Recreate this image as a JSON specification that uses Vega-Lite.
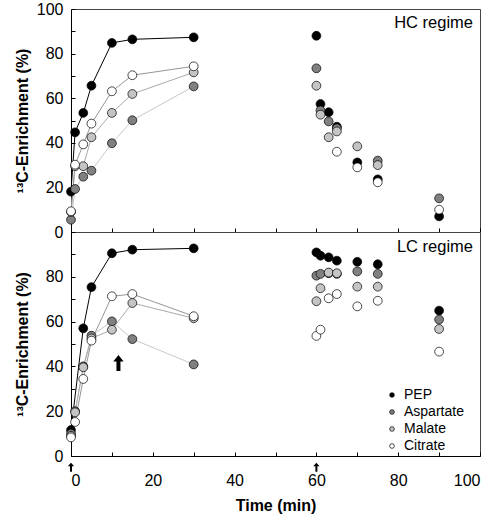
{
  "$schema": "https://vega.github.io/schema/vega-lite/v6.json",
  "padding": {"left": 13, "top": 0, "right": 0, "bottom": 0},
  "background": "white",
  "config": {
    "font": "Liberation Sans",
    "view": {"stroke": "#444", "strokeWidth": 1},
    "axis": {"labelFont": "Liberation Sans", "labelFontSize": 16, "labelColor": "black", "titleFont": "Liberation Sans", "titleFontSize": 16, "titleFontWeight": "bold", "titleColor": "black", "domainColor": "black", "tickColor": "black", "grid": false, "tickSize": -4, "labelPadding": 12}
  },
  "datasets": {
    "hc": [
      {"s": "PEP", "t": 0, "v": 18.1}, {"s": "PEP", "t": 1, "v": 44.7}, {"s": "PEP", "t": 3, "v": 53.4}, {"s": "PEP", "t": 5, "v": 65.6}, {"s": "PEP", "t": 10, "v": 84.8}, {"s": "PEP", "t": 15, "v": 86.4}, {"s": "PEP", "t": 30, "v": 87.3}, {"s": "PEP", "t": 60, "v": 88.0}, {"s": "PEP", "t": 61, "v": 57.4}, {"s": "PEP", "t": 63, "v": 53.7}, {"s": "PEP", "t": 65, "v": 47.2}, {"s": "PEP", "t": 70, "v": 31.2}, {"s": "PEP", "t": 75, "v": 23.6}, {"s": "PEP", "t": 90, "v": 7.0},
      {"s": "Aspartate", "t": 0, "v": 5.5}, {"s": "Aspartate", "t": 1, "v": 19.3}, {"s": "Aspartate", "t": 3, "v": 24.8}, {"s": "Aspartate", "t": 5, "v": 27.5}, {"s": "Aspartate", "t": 10, "v": 39.8}, {"s": "Aspartate", "t": 15, "v": 50.1}, {"s": "Aspartate", "t": 30, "v": 65.3}, {"s": "Aspartate", "t": 60, "v": 73.4}, {"s": "Aspartate", "t": 61, "v": 54.5}, {"s": "Aspartate", "t": 63, "v": 49.6}, {"s": "Aspartate", "t": 65, "v": 46.5}, {"s": "Aspartate", "t": 75, "v": 32.0}, {"s": "Aspartate", "t": 90, "v": 15.1},
      {"s": "Malate", "t": 0, "v": 9.0}, {"s": "Malate", "t": 1, "v": 29.5}, {"s": "Malate", "t": 3, "v": 29.5}, {"s": "Malate", "t": 5, "v": 42.5}, {"s": "Malate", "t": 10, "v": 53.4}, {"s": "Malate", "t": 15, "v": 61.9}, {"s": "Malate", "t": 30, "v": 71.6}, {"s": "Malate", "t": 60, "v": 65.6}, {"s": "Malate", "t": 61, "v": 52.6}, {"s": "Malate", "t": 63, "v": 42.5}, {"s": "Malate", "t": 65, "v": 45.1}, {"s": "Malate", "t": 70, "v": 38.4}, {"s": "Malate", "t": 75, "v": 30.0},
      {"s": "Citrate", "t": 0, "v": 9.3}, {"s": "Citrate", "t": 1, "v": 30.2}, {"s": "Citrate", "t": 3, "v": 39.3}, {"s": "Citrate", "t": 5, "v": 48.6}, {"s": "Citrate", "t": 10, "v": 63.1}, {"s": "Citrate", "t": 15, "v": 70.3}, {"s": "Citrate", "t": 30, "v": 74.3}, {"s": "Citrate", "t": 65, "v": 36.0}, {"s": "Citrate", "t": 70, "v": 29.0}, {"s": "Citrate", "t": 75, "v": 22.3}, {"s": "Citrate", "t": 90, "v": 10.0}
    ],
    "lc": [
      {"s": "PEP", "t": 0, "v": 11.6}, {"s": "PEP", "t": 3, "v": 57.0}, {"s": "PEP", "t": 5, "v": 75.4}, {"s": "PEP", "t": 10, "v": 90.5}, {"s": "PEP", "t": 15, "v": 92.1}, {"s": "PEP", "t": 30, "v": 92.7}, {"s": "PEP", "t": 60, "v": 90.9}, {"s": "PEP", "t": 61, "v": 89.4}, {"s": "PEP", "t": 63, "v": 88.7}, {"s": "PEP", "t": 65, "v": 87.2}, {"s": "PEP", "t": 70, "v": 86.7}, {"s": "PEP", "t": 75, "v": 85.6}, {"s": "PEP", "t": 90, "v": 64.9},
      {"s": "Aspartate", "t": 0, "v": 10.0}, {"s": "Aspartate", "t": 1, "v": 20.0}, {"s": "Aspartate", "t": 3, "v": 40.0}, {"s": "Aspartate", "t": 5, "v": 53.7}, {"s": "Aspartate", "t": 10, "v": 60.1}, {"s": "Aspartate", "t": 15, "v": 52.2}, {"s": "Aspartate", "t": 30, "v": 40.9}, {"s": "Aspartate", "t": 60, "v": 80.5}, {"s": "Aspartate", "t": 61, "v": 81.3}, {"s": "Aspartate", "t": 63, "v": 81.6}, {"s": "Aspartate", "t": 65, "v": 81.3}, {"s": "Aspartate", "t": 70, "v": 82.4}, {"s": "Aspartate", "t": 75, "v": 81.3}, {"s": "Aspartate", "t": 90, "v": 60.9},
      {"s": "Malate", "t": 0, "v": 9.0}, {"s": "Malate", "t": 1, "v": 19.5}, {"s": "Malate", "t": 3, "v": 39.6}, {"s": "Malate", "t": 5, "v": 52.5}, {"s": "Malate", "t": 10, "v": 56.4}, {"s": "Malate", "t": 15, "v": 68.3}, {"s": "Malate", "t": 30, "v": 61.5}, {"s": "Malate", "t": 60, "v": 69.1}, {"s": "Malate", "t": 61, "v": 74.9}, {"s": "Malate", "t": 63, "v": 81.9}, {"s": "Malate", "t": 65, "v": 81.6}, {"s": "Malate", "t": 70, "v": 75.6}, {"s": "Malate", "t": 75, "v": 75.6}, {"s": "Malate", "t": 90, "v": 56.7},
      {"s": "Citrate", "t": 0, "v": 8.3}, {"s": "Citrate", "t": 1, "v": 15.2}, {"s": "Citrate", "t": 3, "v": 34.4}, {"s": "Citrate", "t": 5, "v": 51.5}, {"s": "Citrate", "t": 10, "v": 71.3}, {"s": "Citrate", "t": 15, "v": 72.3}, {"s": "Citrate", "t": 30, "v": 62.4}, {"s": "Citrate", "t": 60, "v": 53.6}, {"s": "Citrate", "t": 61, "v": 56.4}, {"s": "Citrate", "t": 63, "v": 70.4}, {"s": "Citrate", "t": 65, "v": 72.3}, {"s": "Citrate", "t": 70, "v": 66.8}, {"s": "Citrate", "t": 75, "v": 69.3}, {"s": "Citrate", "t": 90, "v": 46.6}
    ]
  },
  "spacing": 0,
  "bounds": "flush",
  "vconcat": [
    {
      "width": 409,
      "height": 223,
      "encoding": {
        "x": {"field": "t", "type": "quantitative", "scale": {"domain": [0, 100], "nice": false}, "axis": {"values": [0, 10, 20, 30, 40, 50, 60, 70, 80, 90, 100], "labels": false, "title": null}},
        "y": {"field": "v", "type": "quantitative", "scale": {"domain": [0, 100], "nice": false}, "axis": {"values": [0, 10, 20, 30, 40, 50, 60, 70, 80, 90, 100], "labelExpr": "datum.value % 20 == 0 ? datum.label : ''", "title": "¹³C-Enrichment (%)", "titleX": -49, "titleBaseline": "middle"}}
      },
      "layer": [
        {"data": {"name": "hc"}, "transform": [{"filter": "datum.t <= 30 && datum.s == 'Aspartate'"}], "mark": {"type": "line", "strokeWidth": 1, "color": "#c8c8c8"}, "encoding": {}},
        {"data": {"name": "hc"}, "transform": [{"filter": "datum.t <= 30 && datum.s == 'Malate'"}], "mark": {"type": "line", "strokeWidth": 1, "color": "#aaaaaa"}, "encoding": {}},
        {"data": {"name": "hc"}, "transform": [{"filter": "datum.t <= 30 && datum.s == 'Citrate'"}], "mark": {"type": "line", "strokeWidth": 1, "color": "#969696"}, "encoding": {}},
        {"data": {"name": "hc"}, "transform": [{"filter": "datum.t <= 30 && datum.s == 'PEP'"}], "mark": {"type": "line", "strokeWidth": 1, "color": "#000000"}, "encoding": {}},
        {
          "data": {"name": "hc"},
          "mark": {"type": "point", "filled": true, "size": 78, "stroke": "black", "strokeWidth": 0.7, "opacity": 1},
          "encoding": {"fill": {"field": "s", "type": "nominal", "scale": {"domain": ["PEP", "Aspartate", "Malate", "Citrate"], "range": ["#000000", "#808080", "#c4c4c4", "#ffffff"]}, "legend": {"title": null, "orient": "none", "legendX": 314, "legendY": 379, "labelFontSize": 14, "labelFont": "Liberation Sans", "labelColor": "black", "symbolSize": 22, "symbolType": "circle", "symbolStrokeColor": "black", "symbolStrokeWidth": 0.7, "rowPadding": 3, "labelOffset": 5}}}
        },
        {
          "data": {"values": [{"t": 98.3, "v": 91.5, "label": "HC regime"}]},
          "mark": {"type": "text", "align": "right", "baseline": "alphabetic", "fontSize": 16.5, "font": "Liberation Sans", "color": "black"},
          "encoding": {"text": {"field": "label"}}
        }
      ]
    },
    {
      "width": 409,
      "height": 224,
      "encoding": {
        "x": {"field": "t", "type": "quantitative", "scale": {"domain": [0, 100], "nice": false}, "axis": {"values": [0, 10, 20, 30, 40, 50, 60, 70, 80, 90, 100], "labelExpr": "datum.value % 20 == 0 ? datum.label : ''", "labelPadding": 20, "title": "Time (min)", "titlePadding": 9}},
        "y": {"field": "v", "type": "quantitative", "scale": {"domain": [0, 100], "nice": false}, "axis": {"values": [0, 10, 20, 30, 40, 50, 60, 70, 80, 90, 100], "labelExpr": "datum.value % 20 == 0 && datum.value < 100 ? datum.label : ''", "title": "¹³C-Enrichment (%)", "titleX": -49, "titleBaseline": "middle"}}
      },
      "layer": [
        {"data": {"name": "lc"}, "transform": [{"filter": "datum.t <= 30 && datum.s == 'Aspartate'"}], "mark": {"type": "line", "strokeWidth": 1, "color": "#c8c8c8"}, "encoding": {}},
        {"data": {"name": "lc"}, "transform": [{"filter": "datum.t <= 30 && datum.s == 'Malate'"}], "mark": {"type": "line", "strokeWidth": 1, "color": "#aaaaaa"}, "encoding": {}},
        {"data": {"name": "lc"}, "transform": [{"filter": "datum.t <= 30 && datum.s == 'Citrate'"}], "mark": {"type": "line", "strokeWidth": 1, "color": "#969696"}, "encoding": {}},
        {"data": {"name": "lc"}, "transform": [{"filter": "datum.t <= 30 && datum.s == 'PEP'"}], "mark": {"type": "line", "strokeWidth": 1, "color": "#000000"}, "encoding": {}},
        {
          "data": {"name": "lc"},
          "mark": {"type": "point", "filled": true, "size": 78, "stroke": "black", "strokeWidth": 0.7, "opacity": 1},
          "encoding": {"fill": {"field": "s", "type": "nominal", "scale": {"domain": ["PEP", "Aspartate", "Malate", "Citrate"], "range": ["#000000", "#808080", "#c4c4c4", "#ffffff"]}, "legend": {"title": null, "orient": "none", "legendX": 314, "legendY": 379, "labelFontSize": 14, "labelFont": "Liberation Sans", "labelColor": "black", "symbolSize": 22, "symbolType": "circle", "symbolStrokeColor": "black", "symbolStrokeWidth": 0.7, "rowPadding": 3, "labelOffset": 5}}}
        },
        {
          "data": {"values": [{"t": 98.3, "v": 91.0, "label": "LC regime"}]},
          "mark": {"type": "text", "align": "right", "baseline": "alphabetic", "fontSize": 16.5, "font": "Liberation Sans", "color": "black"},
          "encoding": {"text": {"field": "label"}}
        },
        {
          "data": {"values": [{"t": 11.6, "v": 41.5}]},
          "mark": {"type": "point", "shape": "M0,-1L0.65,-0.2L0.25,-0.2L0.25,1L-0.25,1L-0.25,-0.2L-0.65,-0.2Z", "filled": true, "color": "black", "size": 256, "opacity": 1}
        },
        {
          "data": {"values": [{"t": 0, "v": -5}, {"t": 60, "v": -5}]},
          "mark": {"type": "point", "shape": "M0,-1L0.7,-0.2L0.22,-0.2L0.22,1L-0.22,1L-0.22,-0.2L-0.7,-0.2Z", "filled": true, "color": "black", "size": 81, "opacity": 1}
        }
      ]
    }
  ]
}
